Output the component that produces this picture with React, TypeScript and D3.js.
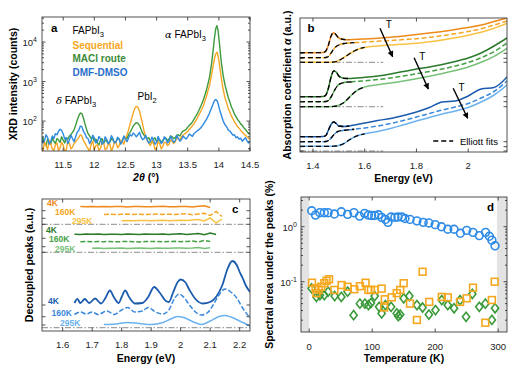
import React from 'react';
import * as d3 from 'd3';

// ===== Panel a: XRD =====
const xrdTheta = [11.15, 11.175, 11.2, 11.225, 11.25, 11.275, 11.3, 11.325, 11.35, 11.375, 11.4, 11.425, 11.45, 11.475, 11.5, 11.525, 11.55, 11.575, 11.6, 11.625, 11.65, 11.675, 11.7, 11.725, 11.75, 11.775, 11.8, 11.825, 11.85, 11.875, 11.9, 11.925, 11.95, 11.975, 12.0, 12.025, 12.05, 12.075, 12.1, 12.125, 12.15, 12.175, 12.2, 12.225, 12.25, 12.275, 12.3, 12.325, 12.35, 12.375, 12.4, 12.425, 12.45, 12.475, 12.5, 12.525, 12.55, 12.575, 12.6, 12.625, 12.65, 12.675, 12.7, 12.725, 12.75, 12.775, 12.8, 12.825, 12.85, 12.875, 12.9, 12.925, 12.95, 12.975, 13.0, 13.025, 13.05, 13.075, 13.1, 13.125, 13.15, 13.175, 13.2, 13.225, 13.25, 13.275, 13.3, 13.325, 13.35, 13.375, 13.4, 13.425, 13.45, 13.475, 13.5, 13.525, 13.55, 13.575, 13.6, 13.625, 13.65, 13.675, 13.7, 13.725, 13.75, 13.775, 13.8, 13.825, 13.85, 13.88, 13.91, 13.93, 13.95, 13.97, 13.99, 14.01, 14.04, 14.07, 14.1, 14.125, 14.15, 14.175, 14.2, 14.225, 14.25, 14.275, 14.3, 14.325, 14.35, 14.375, 14.4, 14.425, 14.45, 14.475, 14.5];
const xrdMACl = [32, 38, 27, 24, 35, 30, 26, 37, 31, 27, 36, 33, 29, 40, 33, 28, 38, 35, 42, 46, 52, 60, 78, 105, 135, 160, 155, 120, 85, 62, 48, 42, 36, 40, 31, 35, 28, 25, 33, 36, 27, 33, 31, 26, 29, 36, 33, 28, 30, 38, 35, 29, 32, 40, 38, 36, 46, 52, 62, 75, 84, 92, 88, 78, 62, 50, 44, 40, 36, 38, 31, 28, 35, 38, 30, 33, 34, 29, 32, 38, 37, 32, 35, 42, 40, 36, 38, 44, 45, 42, 50, 56, 58, 62, 70, 78, 85, 95, 110, 130, 150, 180, 220, 270, 340, 450, 600, 870, 1300, 2600, 6500, 13000, 22000, 26000, 18000, 9000, 3000, 1400, 800, 570, 400, 310, 230, 190, 150, 130, 110, 98, 85, 78, 68, 62, 55, 49, 45];
const xrdSequential = [22, 17, 30, 24, 19, 33, 26, 20, 18, 25, 28, 18, 21, 29, 25, 17, 19, 31, 27, 20, 22, 27, 30, 34, 38, 45, 42, 32, 28, 23, 20, 17, 26, 31, 19, 24, 25, 18, 21, 29, 28, 19, 20, 27, 26, 17, 22, 30, 29, 21, 24, 33, 30, 26, 36, 45, 60, 85, 115, 160, 210, 235, 225, 180, 125, 85, 55, 40, 32, 28, 24, 31, 28, 19, 21, 30, 27, 20, 23, 29, 29, 24, 26, 33, 31, 27, 30, 38, 36, 34, 40, 44, 47, 51, 55, 62, 68, 76, 85, 100, 115, 140, 165, 200, 240, 320, 420, 580, 800, 1400, 2600, 3800, 5000, 5500, 4300, 2700, 1200, 620, 380, 285, 210, 172, 135, 115, 95, 84, 72, 66, 58, 53, 48, 44, 40, 37, 34];
const xrdDMF = [40, 28, 32, 45, 38, 26, 30, 42, 36, 48, 45, 55, 62, 58, 48, 35, 38, 27, 33, 44, 36, 30, 40, 52, 58, 75, 72, 55, 48, 38, 36, 27, 32, 44, 37, 28, 30, 41, 35, 26, 29, 40, 34, 27, 31, 43, 36, 28, 30, 39, 34, 26, 31, 42, 35, 30, 38, 45, 42, 50, 46, 40, 45, 52, 40, 34, 36, 44, 33, 28, 30, 39, 34, 26, 29, 41, 33, 27, 30, 40, 35, 28, 31, 42, 34, 29, 32, 43, 36, 31, 34, 42, 38, 35, 40, 47, 44, 41, 48, 52, 56, 60, 65, 72, 82, 95, 110, 132, 160, 210, 280, 330, 350, 330, 270, 200, 140, 100, 80, 72, 60, 56, 50, 44, 45, 38, 40, 35, 37, 31, 34, 38, 32, 28, 30];
const xrdXTicks = [11.5, 12, 12.5, 13, 13.5, 14, 14.5];
const xrdYExp = [2, 3, 4];

// ===== Panel b: absorption =====
const absEnergy = [1.35, 1.40, 1.44, 1.45, 1.46, 1.47, 1.48, 1.49, 1.50, 1.52, 1.54, 1.56, 1.58, 1.60, 1.65, 1.70, 1.75, 1.80, 1.85, 1.90, 1.95, 2.00, 2.05, 2.10, 2.15];
const absSeq4K = [9.93, 9.93, 9.95, 10.1, 10.7, 11.6, 11.93, 11.7, 11.4, 11.25, 11.23, 11.25, 11.28, 11.3, 11.38, 11.47, 11.6, 11.75, 11.9, 12.05, 12.25, 12.45, 12.7, 13.05, 13.4];
const absSeq160K = [9.43, 9.43, 9.43, 9.45, 9.55, 9.9, 10.3, 10.55, 10.7, 10.85, 10.9, 10.93, 10.96, 11.0, 11.07, 11.15, 11.24, 11.33, 11.47, 11.63, 11.83, 12.05, 12.32, 12.7, 13.1];
const absSeq295K = [8.97, 8.97, 8.97, 8.97, 8.97, 8.97, 9.0, 9.05, 9.15, 9.45, 9.8, 10.1, 10.32, 10.46, 10.6, 10.7, 10.78, 10.87, 11.02, 11.2, 11.42, 11.67, 11.97, 12.37, 12.85];
const absMA4K = [5.53, 5.53, 5.55, 5.7, 6.4, 7.5, 8.1, 8.0, 7.6, 7.37, 7.35, 7.38, 7.42, 7.47, 7.6, 7.8, 8.05, 8.3, 8.5, 8.75, 9.05, 9.4, 9.9, 10.6, 11.4];
const absMA160K = [5.03, 5.03, 5.03, 5.05, 5.15, 5.5, 6.0, 6.45, 6.75, 6.95, 7.0, 7.04, 7.08, 7.12, 7.24, 7.4, 7.6, 7.82, 8.05, 8.3, 8.6, 8.95, 9.42, 10.05, 10.9];
const absMA295K = [4.53, 4.53, 4.53, 4.53, 4.53, 4.54, 4.56, 4.6, 4.68, 4.95, 5.45, 5.95, 6.3, 6.5, 6.72, 6.9, 7.1, 7.33, 7.58, 7.85, 8.15, 8.5, 8.97, 9.57, 10.37];
const absDMF4K = [1.53, 1.53, 1.55, 1.65, 2.2, 2.75, 3.0, 2.85, 2.6, 2.55, 2.6, 2.7, 2.8, 2.9, 3.15, 3.35, 3.65, 4.0, 4.45, 5.0, 5.1, 5.6, 6.3, 6.45, 7.5];
const absDMF160K = [1.03, 1.03, 1.03, 1.05, 1.15, 1.4, 1.7, 1.95, 2.08, 2.17, 2.22, 2.28, 2.34, 2.4, 2.6, 2.85, 3.15, 3.5, 3.85, 4.2, 4.5, 4.85, 5.4, 6.05, 7.1];
const absDMF295K = [0.57, 0.57, 0.57, 0.57, 0.57, 0.57, 0.58, 0.6, 0.65, 0.85, 1.2, 1.5, 1.7, 1.82, 2.05, 2.35, 2.72, 3.1, 3.45, 3.8, 4.1, 4.45, 5.0, 5.7, 6.7];
const absFitEnd = [1.55, 1.56, 1.61];
const absBaselines = [8.97, 4.53, 0.1];
const absBaselineEnd = 1.672;
const absTickLevels = [9.87, 9.37, 8.97, 5.53, 5.03, 4.53, 1.03, 0.53, 0.1];
const absXTicks = [1.4, 1.6, 1.8, 2.0];
const absArrows = [[1.659, 12.37, 1.708, 9.53], [1.791, 9.43, 1.846, 6.3], [1.942, 6.37, 1.998, 3.37]];

// ===== Panel c: decoupled peaks =====
const decGrid = [1.62, 1.64, 1.66, 1.68, 1.70, 1.72, 1.74, 1.76, 1.78, 1.80, 1.82, 1.84, 1.86, 1.88, 1.90, 1.92, 1.94, 1.96, 1.98, 2.00, 2.02, 2.04, 2.06, 2.08, 2.10, 2.12, 2.14];
const decSeq4K = [null, null, 12.44, 12.42, 12.45, 12.43, 12.46, 12.42, 12.44, 12.45, 12.41, 12.44, 12.46, 12.43, 12.42, 12.45, 12.47, 12.43, 12.42, 12.46, 12.44, 12.40, 12.47, 12.52, 12.35, null, null];
const decSeq160K = [null, null, null, null, null, null, 11.66, 11.68, 11.65, 11.67, 11.69, 11.66, 11.68, 11.64, 11.67, 11.70, 11.66, 11.68, 11.65, 11.69, 11.72, 11.63, 11.70, 11.78, 11.55, 11.95, 11.45];
const decSeq295K = [null, null, null, null, null, null, null, null, null, 11.03, 11.05, 11.02, 11.04, 11.06, 11.03, 11.05, 11.07, 11.02, 11.06, 11.08, 11.04, 11.10, 11.15, 11.0, 11.3, 10.8, 11.2];
const decMA4K = [null, 9.68, 9.66, 9.69, 9.67, 9.70, 9.66, 9.68, 9.67, 9.65, 9.69, 9.68, 9.66, 9.70, 9.67, 9.68, 9.71, 9.66, 9.69, 9.72, 9.66, 9.70, 9.75, 9.62, 9.80, 9.65, null];
const decMA160K = [null, null, 8.93, 8.95, 8.92, 8.94, 8.93, 8.96, 8.92, 8.94, 8.95, 8.93, 8.91, 8.95, 8.94, 8.96, 8.92, 8.94, 8.97, 8.93, 8.95, 8.99, 8.90, 9.05, 8.95, null, null];
const decMA295K = [null, null, null, null, 8.27, 8.29, 8.26, 8.28, 8.27, 8.30, 8.26, 8.28, 8.29, 8.27, 8.26, 8.30, 8.28, 8.27, 8.29, 8.31, 8.27, 8.30, 8.35, 8.25, 8.32, null, null];
const decDMF4KE = [1.64, 1.65, 1.66, 1.675, 1.69, 1.71, 1.73, 1.745, 1.76, 1.775, 1.79, 1.80, 1.812, 1.825, 1.845, 1.87, 1.89, 1.91, 1.93, 1.95, 1.96, 1.975, 1.99, 2.0, 2.015, 2.03, 2.05, 2.075, 2.1, 2.12, 2.14, 2.16, 2.175, 2.19, 2.2, 2.21, 2.22, 2.235];
const decDMF4K = [2.8, 3.2, 2.8, 3.2, 2.8, 3.25, 2.75, 3.3, 4.05, 3.3, 2.8, 3.4, 4.05, 3.4, 2.75, 2.8, 3.4, 4.4, 3.8, 3.0, 2.9, 3.9, 4.9, 5.15, 4.9, 4.1, 3.2, 2.75, 2.9, 3.4, 4.5, 6.3, 7.0, 6.6, 5.9, 5.3, 4.6, 3.9];
const decDMF160KE = [1.64, 1.66, 1.68, 1.70, 1.72, 1.75, 1.775, 1.80, 1.82, 1.845, 1.87, 1.89, 1.915, 1.94, 1.96, 1.98, 1.995, 2.01, 2.03, 2.05, 2.07, 2.09, 2.11, 2.13, 2.15, 2.17, 2.19, 2.21, 2.235];
const decDMF160K = [1.65, 1.9, 1.7, 1.9, 1.65, 2.0, 1.65, 2.1, 2.35, 1.9, 2.0, 2.35, 1.9, 1.7, 2.1, 3.3, 3.7, 3.4, 2.6, 1.9, 1.6, 1.8, 2.6, 3.6, 4.2, 3.9, 3.3, 2.3, 1.3];
const decDMF295KE = [1.74, 1.78, 1.82, 1.86, 1.90, 1.94, 1.97, 1.99, 2.01, 2.04, 2.07, 2.1, 2.13, 2.15, 2.17, 2.2, 2.235];
const decDMF295K = [0.65, 0.7, 0.85, 0.75, 0.65, 0.85, 1.25, 1.45, 1.35, 0.95, 0.65, 1.0, 1.45, 1.55, 1.4, 1.0, 0.5];
const decBaselines = [10.67, 7.87, 0.33];
const decTickLevels = [12.03, 11.27, 10.67, 9.27, 8.43, 7.87, 2.6, 1.43, 0.6];
const decXTicks = [1.6, 1.7, 1.8, 1.9, 2.0, 2.1, 2.2];
const tempLabels = ['4K', '160K', '295K'];

// ===== Panel d: spectral area =====
const dTempDMF = [4, 10, 17, 24, 30, 40, 51, 61, 71, 80, 88, 94, 99, 104, 110, 115, 121, 125, 130, 136, 141, 147, 152, 160, 171, 181, 190, 200, 210, 220, 230, 240, 250, 260, 270, 280, 286, 290, 295];
const dAreaDMF = [1.95, 1.63, 1.8, 1.8, 1.8, 1.7, 1.87, 1.68, 1.8, 1.56, 1.75, 1.63, 1.6, 1.6, 1.65, 1.48, 1.36, 1.2, 1.5, 1.48, 1.5, 1.5, 1.41, 1.36, 1.28, 1.2, 1.17, 1.09, 1.0, 0.9, 0.9, 0.76, 0.86, 0.79, 0.69, 0.79, 0.67, 0.57, 0.45];
const dTempSeq = [4.5, 10, 11.5, 15, 19, 24, 27.5, 31.5, 40, 51.5, 61, 71.5, 80.5, 89.5, 94, 98, 104, 115, 119, 120, 131, 139, 144.5, 150, 160, 171, 180, 190.5, 210.5, 220, 239.5, 250, 260, 279.6, 290, 294.5];
const dAreaSeq = [0.096, 0.076, 0.062, 0.071, 0.081, 0.094, 0.104, 0.111, 0.071, 0.087, 0.081, 0.073, 0.083, 0.096, 0.071, 0.071, 0.071, 0.075, 0.034, 0.048, 0.052, 0.062, 0.071, 0.094, 0.04, 0.0202, 0.152, 0.043, 0.053, 0.052, 0.043, 0.05, 0.078, 0.018, 0.0465, 0.1];
const dTempMA = [3.8, 11.5, 17, 24, 30, 40.5, 51, 61, 70.5, 80.5, 88.5, 94, 98, 104, 111, 115, 121, 130, 139, 141.5, 144.5, 150, 159, 171, 180, 190, 200.5, 210.5, 220, 230, 239.5, 249, 259, 270, 279.6, 290, 295];
const dAreaMA = [0.076, 0.053, 0.057, 0.057, 0.066, 0.055, 0.053, 0.066, 0.0247, 0.04, 0.04, 0.0376, 0.041, 0.055, 0.035, 0.0266, 0.0376, 0.035, 0.0266, 0.0237, 0.0253, 0.05, 0.055, 0.0376, 0.034, 0.0253, 0.0306, 0.0465, 0.0376, 0.033, 0.0465, 0.023, 0.06, 0.035, 0.04, 0.0202, 0.033];
const dXTicks = [0, 100, 200, 300];
const dYExp = [-1, 0];
const dShade = [[-13, 0], [298, 314]];

const FONT = "'Liberation Sans', Arial, Helvetica, sans-serif";
const ORANGE = ['#EE8A1A', '#F5A623', '#F8C244'];
const GREEN = ['#2B7A2B', '#44A044', '#78C078'];
const BLUE = ['#1B5BAE', '#3A88DC', '#6CB2EE'];
const XRD_COL = { seq: '#F5A623', ma: '#3D9A3D', dmf: '#2E8AE0' };
const AXC = '#262626';

function Frame({ xs, ys, xTicks, yTicks, yMinor = [] as number[] }: any) {
  const [x0, x1] = xs.range();
  const [yb, yt] = ys.range();
  const L = 3.5, l = 2;
  return (
    <g stroke={AXC} strokeWidth={0.8} fill="none">
      {xTicks.map((t: number) => (
        <g key={'x' + t}>
          <line x1={xs(t)} x2={xs(t)} y1={yb} y2={yb - L} />
          <line x1={xs(t)} x2={xs(t)} y1={yt} y2={yt + L} />
        </g>
      ))}
      {yTicks.map((t: number) => (
        <g key={'y' + t}>
          <line x1={x0} x2={x0 + L} y1={ys(t)} y2={ys(t)} />
          <line x1={x1} x2={x1 - L} y1={ys(t)} y2={ys(t)} />
        </g>
      ))}
      {yMinor.map((t: number) => (
        <g key={'m' + t}>
          <line x1={x0} x2={x0 + l} y1={ys(t)} y2={ys(t)} />
          <line x1={x1} x2={x1 - l} y1={ys(t)} y2={ys(t)} />
        </g>
      ))}
      <rect x={x0} y={yt} width={x1 - x0} height={yb - yt} />
    </g>
  );
}

function logMinor(lo: number, hi: number) {
  const out: number[] = [];
  for (let e = Math.floor(Math.log10(lo)); e <= Math.ceil(Math.log10(hi)); e++) {
    for (let k = 2; k <= 9; k++) {
      const v = k * Math.pow(10, e);
      if (v > lo && v < hi) out.push(v);
    }
  }
  return out;
}

const pow10 = (e: number) => (
  <>
    10<tspan dy={-4} fontSize={7}>{e}</tspan>
  </>
);

export default function App() {
  const ax = d3.scaleLinear().domain([11.16, 14.5]).range([42, 250]);
  const ay = d3.scaleLog().domain([17.5, 43000]).range([151, 17]);
  const bx = d3.scaleLinear().domain([1.35, 2.15]).range([300, 507]);
  const by = d3.scaleLinear().domain([0, 13.4]).range([152, 18]);
  const cx = d3.scaleLinear().domain([1.53, 2.235]).range([42, 250]);
  const cy = d3.scaleLinear().domain([0, 13.2]).range([331, 199]);
  const dx = d3.scaleLinear().domain([-13, 314]).range([301, 507]);
  const dy = d3.scaleLog().domain([0.0122, 3.47]).range([332, 197]);

  const lineA = d3.line<number>().x((_, i) => ax(xrdTheta[i])).y((v) => ay(v));
  const mkLine = (xs: any, ys: any, curve: any = d3.curveMonotoneX) =>
    d3.line<[number, number | null]>()
      .defined((d) => d[1] != null)
      .x((d) => xs(d[0]))
      .y((d) => ys(d[1] as number))
      .curve(curve);
  const lineB = mkLine(bx, by);
  const lineCs = mkLine(cx, cy, d3.curveLinear);
  const lineCb = mkLine(cx, cy, d3.curveMonotoneX);
  const zip = (xsArr: number[], ysArr: (number | null)[]) => xsArr.map((x, i) => [x, ysArr[i]] as [number, number | null]);

  const absGroups = [
    { col: ORANGE, data: [absSeq4K, absSeq160K, absSeq295K] },
    { col: GREEN, data: [absMA4K, absMA160K, absMA295K] },
    { col: BLUE, data: [absDMF4K, absDMF160K, absDMF295K] },
  ];
  const decFlat = [
    { col: ORANGE, data: [decSeq4K, decSeq160K, decSeq295K] },
    { col: GREEN, data: [decMA4K, decMA160K, decMA295K] },
  ];
  const decBlue = [zip(decDMF4KE, decDMF4K), zip(decDMF160KE, decDMF160K), zip(decDMF295KE, decDMF295K)];

  const tickFs = 9.5;
  const titleFs = 10.5;
  const diamond = (s: number) => `M0,${-s} L${s * 0.78},0 L0,${s} L${-s * 0.78},0 Z`;

  const cLabelPos = [
    [[47, 205.5], [55, 214.5], [72, 223.5]],
    [[46, 232.6], [49, 242.2], [55, 251.5]],
    [[48, 303.5], [51.5, 316], [60, 326]],
  ];
  const cLabelCols = [ORANGE, GREEN, BLUE];

  return (
    <svg width={531} height={381} style={{ position: 'absolute', left: 0, top: 0, background: '#fff' }} fontFamily={FONT}>
      <defs>
        <clipPath id="clipA"><rect x={42} y={17} width={208} height={134} /></clipPath>
        <clipPath id="clipB"><rect x={300} y={18} width={207} height={134} /></clipPath>
        <clipPath id="clipC"><rect x={42} y={199} width={208} height={132} /></clipPath>
        <clipPath id="clipD"><rect x={301} y={197} width={206} height={135} /></clipPath>
        <marker id="arr" viewBox="0 0 10 10" refX={9} refY={5} markerWidth={7} markerHeight={6} markerUnits="userSpaceOnUse" orient="auto">
          <path d="M0,0 L10,5 L0,10 z" fill="#000" />
        </marker>
      </defs>
      <rect x={0} y={0} width={531} height={381} fill="#fff" />

      {/* ================= Panel a ================= */}
      <g clipPath="url(#clipA)" fill="none" strokeWidth={1.4} strokeLinejoin="round">
        <path d={lineA(xrdMACl) || ''} stroke={XRD_COL.ma} />
        <path d={lineA(xrdSequential) || ''} stroke={XRD_COL.seq} />
        <path d={lineA(xrdDMF) || ''} stroke={XRD_COL.dmf} />
      </g>
      <Frame xs={ax} ys={ay} xTicks={xrdXTicks} yTicks={xrdYExp.map((e) => Math.pow(10, e))} yMinor={logMinor(17.5, 43000)} />
      <g fontSize={tickFs} fill="#222">
        {xrdXTicks.map((t) => (
          <text key={t} x={ax(t)} y={167.5} textAnchor="middle">{t}</text>
        ))}
        {xrdYExp.map((e) => (
          <text key={e} x={37} y={ay(Math.pow(10, e)) + 4} textAnchor="end">{pow10(e)}</text>
        ))}
      </g>
      <text x={51} y={31.5} fontSize={11.5} fontWeight="bold">a</text>
      <g fontSize={10}>
        <text x={72.5} y={33.5}>FAPbI<tspan dy={3} fontSize={7.5}>3</tspan></text>
        <text x={72.5} y={48.5} fontWeight="bold" fill={XRD_COL.seq}>Sequential</text>
        <text x={72.5} y={62} fontWeight="bold" fill="#3A8A3A">MACl route</text>
        <text x={72.5} y={75.5} fontWeight="bold" fill="#2A6FC9">DMF-DMSO</text>
        <text x={165} y={38}><tspan fontFamily="'DejaVu Serif', serif" fontStyle="italic">α</tspan> FAPbI<tspan dy={3} fontSize={7.5}>3</tspan></text>
        <text x={137.5} y={99.5}>PbI<tspan dy={3} fontSize={7.5}>2</tspan></text>
        <text x={56} y={104}><tspan fontFamily="'DejaVu Serif', serif" fontStyle="italic">δ</tspan> FAPbI<tspan dy={3} fontSize={7.5}>3</tspan></text>
      </g>
      <text x={146} y={181} fontSize={titleFs} fontWeight="bold" textAnchor="middle">
        <tspan fontStyle="italic">2θ</tspan> (°)
      </text>
      <text transform="translate(16.5,84) rotate(-90)" fontSize={titleFs} fontWeight="bold" textAnchor="middle">XRD intensity (counts)</text>

      {/* ================= Panel b ================= */}
      <g clipPath="url(#clipB)" fill="none">
        {absBaselines.map((b, i) => (
          <line key={i} x1={bx(1.35)} x2={bx(absBaselineEnd)} y1={by(b)} y2={by(b)} stroke="#8c8c8c" strokeWidth={1} strokeDasharray="6,2,1.5,2" />
        ))}
        {absGroups.map((g, gi) => (
          <g key={gi}>
            {g.data.map((arr, ti) => (
              <path key={ti} d={lineB(zip(absEnergy, arr)) || ''} stroke={g.col[ti]} strokeWidth={1.5} strokeDasharray={ti === 1 ? '5,2.5' : undefined} />
            ))}
            {g.data.map((arr, ti) => (
              <path key={'f' + ti} d={lineB(zip(absEnergy, arr).filter((d) => d[0] <= absFitEnd[ti])) || ''} stroke="#000" strokeWidth={1.3} strokeDasharray="5,3" />
            ))}
          </g>
        ))}
      </g>
      <g stroke="#000" strokeWidth={1.4}>
        {absArrows.map((a, i) => (
          <line key={i} x1={bx(a[0])} y1={by(a[1])} x2={bx(a[2])} y2={by(a[3])} markerEnd="url(#arr)" />
        ))}
      </g>
      <g fontSize={10}>
        <text x={bx(1.681)} y={by(12.37)}>T</text>
        <text x={bx(1.811)} y={by(9.2)}>T</text>
        <text x={bx(1.963)} y={by(6.13)}>T</text>
      </g>
      <line x1={bx(1.865)} x2={bx(1.942)} y1={by(1.1)} y2={by(1.1)} stroke="#000" strokeWidth={1.3} strokeDasharray="5,3" />
      <text x={bx(1.968)} y={by(0.75)} fontSize={9.5}>Elliott fits</text>
      <Frame xs={bx} ys={by} xTicks={absXTicks} yTicks={absTickLevels} />
      <g fontSize={tickFs} fill="#222">
        {absXTicks.map((t) => (
          <text key={t} x={bx(t)} y={169} textAnchor="middle">{t}</text>
        ))}
      </g>
      <text x={307.5} y={31.7} fontSize={11.5} fontWeight="bold">b</text>
      <text x={403.5} y={182} fontSize={titleFs} fontWeight="bold" textAnchor="middle">Energy (eV)</text>
      <text transform="translate(290.5,85) rotate(-90)" fontSize={titleFs} fontWeight="bold" textAnchor="middle">
        Absorption coefficient <tspan fontStyle="italic">α</tspan> (a.u.)
      </text>

      {/* ================= Panel c ================= */}
      <g clipPath="url(#clipC)" fill="none">
        {decBaselines.map((b, i) => (
          <line key={i} x1={42} x2={250} y1={cy(b)} y2={cy(b)} stroke="#8c8c8c" strokeWidth={1} strokeDasharray="6,2,1.5,2" />
        ))}
        {decFlat.map((g, gi) =>
          g.data.map((arr, ti) => (
            <path key={gi + '-' + ti} d={lineCs(zip(decGrid, arr)) || ''} stroke={g.col[ti]} strokeWidth={1.5} strokeDasharray={ti === 1 ? '5,2' : undefined} />
          ))
        )}
        {decBlue.map((pts, ti) => (
          <path key={'b' + ti} d={lineCb(pts) || ''} stroke={BLUE[ti]} strokeWidth={ti === 0 ? 1.8 : 1.5} strokeDasharray={ti === 1 ? '5,2' : undefined} />
        ))}
      </g>
      <Frame xs={cx} ys={cy} xTicks={decXTicks} yTicks={decTickLevels} />
      <g fontSize={8.5} fontWeight="bold">
        {cLabelPos.map((grp, gi) =>
          grp.map((p, ti) => (
            <text key={gi + '-' + ti} x={p[0]} y={p[1]} fill={cLabelCols[gi][ti]}>{tempLabels[ti]}</text>
          ))
        )}
      </g>
      <g fontSize={tickFs} fill="#222">
        {decXTicks.map((t) => (
          <text key={t} x={cx(t)} y={348} textAnchor="middle">{t}</text>
        ))}
      </g>
      <text x={232} y={213} fontSize={11.5} fontWeight="bold">c</text>
      <text x={146} y={362} fontSize={titleFs} fontWeight="bold" textAnchor="middle">Energy (eV)</text>
      <text transform="translate(33,265) rotate(-90)" fontSize={titleFs} fontWeight="bold" textAnchor="middle">Decoupled peaks (a.u.)</text>

      {/* ================= Panel d ================= */}
      {dShade.map((s, i) => (
        <rect key={i} x={dx(s[0])} y={197} width={dx(s[1]) - dx(s[0])} height={135} fill="#e3e3e3" />
      ))}
      <g clipPath="url(#clipD)" fill="none" strokeWidth={1.6}>
        {dTempMA.map((t, i) => (
          <path key={'g' + i} d={diamond(4.6)} transform={`translate(${dx(t)},${dy(dAreaMA[i])})`} stroke="#3A9A3A" />
        ))}
        {dTempSeq.map((t, i) => (
          <rect key={'o' + i} x={dx(t) - 3.4} y={dy(dAreaSeq[i]) - 3.4} width={6.8} height={6.8} stroke="#F5A81F" />
        ))}
        {dTempDMF.map((t, i) => (
          <circle key={'c' + i} cx={dx(t)} cy={dy(dAreaDMF[i])} r={3.9} stroke="#2E8BE6" />
        ))}
      </g>
      <Frame xs={dx} ys={dy} xTicks={dXTicks} yTicks={dYExp.map((e) => Math.pow(10, e))} yMinor={logMinor(0.0122, 3.47)} />
      <g fontSize={tickFs} fill="#222">
        {dXTicks.map((t) => (
          <text key={t} x={dx(t)} y={349.5} textAnchor="middle">{t}</text>
        ))}
        {dYExp.map((e) => (
          <text key={e} x={297} y={dy(Math.pow(10, e)) + 4} textAnchor="end">{pow10(e)}</text>
        ))}
      </g>
      <text x={487} y={210.7} fontSize={11.5} fontWeight="bold">d</text>
      <text x={404} y={362} fontSize={titleFs} fontWeight="bold" textAnchor="middle">Temperature (K)</text>
      <text transform="translate(273,264.5) rotate(-90)" fontSize={titleFs} fontWeight="bold" textAnchor="middle">Spectral area under the peaks (%)</text>
    </svg>
  );
}
